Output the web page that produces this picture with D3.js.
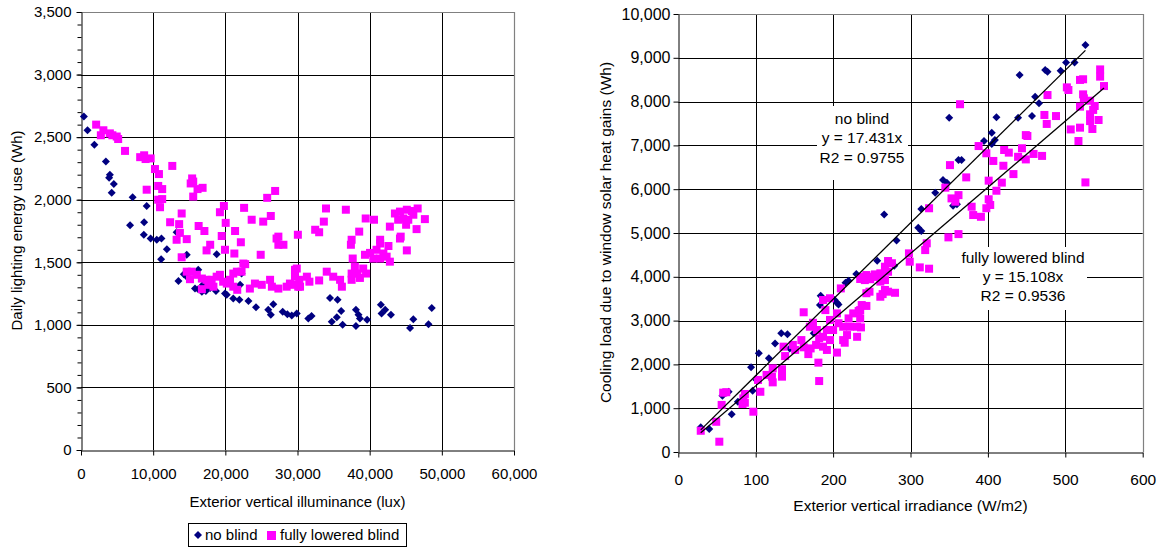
<!DOCTYPE html>
<html><head><meta charset="utf-8">
<script src="https://cdn.jsdelivr.net/npm/d3@7"></script>
<style>
body{margin:0;background:#fff}
svg text{font-family:"Liberation Sans",Arial,sans-serif;fill:#000}
</style>
</head><body><svg id="c" width="1161" height="550"></svg>
<script>
// ---------- DATA ----------
const seriesNames = ["no blind", "fully lowered blind"];
const seriesColors = ["#000080", "#FF00FF"];

// Left chart: exterior vertical illuminance (lux) vs daily lighting energy use (Wh)
const lightingNoBlind = [[400,2665],[900,2555],[1850,2440],[3450,2305],[4000,2200],[3900,2175],[4550,2125],[4250,2055],[7150,2020],[9100,1950],[6800,1795],[8750,1820],[8700,1720],[9650,1690],[10500,1680],[11150,1690],[13250,1740],[11100,1525],[11900,1605],[14650,1560],[13500,1350],[14250,1405],[14650,1385],[16250,1440],[15800,1290],[16250,1285],[16750,1265],[17300,1270],[16900,1320],[17900,1295],[18800,1565],[18700,1270],[19950,1250],[20200,1240],[21100,1210],[21950,1200],[22050,1320],[22250,1410],[23200,1190],[24250,1140],[25950,1120],[26300,1080],[26650,1165],[27950,1105],[28600,1085],[29200,1075],[29900,1090],[31500,1050],[31950,1070],[34500,1215],[35550,1200],[36050,1110],[35450,1060],[34750,1025],[36250,1000],[38100,1120],[38450,1080],[38650,1050],[39650,1040],[38100,990],[41550,1160],[41650,1090],[42150,1120],[42950,1080],[45600,975],[46050,1045],[48150,1005],[48600,1135]];
const lightingBlind = [[2100,2600],[3100,2555],[2750,2515],[4000,2530],[4350,2515],[4950,2505],[5150,2485],[6100,2390],[8200,2340],[8750,2355],[8950,2325],[9650,2330],[10250,2245],[10800,2205],[12650,2270],[9100,2080],[10700,2110],[11250,2085],[10700,2000],[11250,2005],[10950,1940],[12350,1820],[13950,1890],[13600,1805],[15400,2170],[15550,2145],[15200,2130],[15550,2025],[16850,2095],[16150,2085],[16300,1790],[17100,1750],[19250,1900],[19800,1950],[20050,1815],[19500,1710],[21350,1750],[22600,1935],[23650,1840],[25250,1825],[26300,1870],[25800,2015],[26900,2070],[27350,1705],[30050,1720],[13250,1680],[13700,1735],[14650,1685],[13950,1540],[17400,1595],[17900,1640],[21250,1570],[22150,1660],[22750,1485],[24900,1560],[27100,1690],[27350,1640],[28050,1640],[19950,1600],[14650,1425],[15350,1425],[16050,1400],[16750,1370],[17400,1360],[18100,1360],[17650,1320],[18350,1305],[18800,1385],[19250,1400],[19700,1345],[20200,1330],[20650,1360],[21100,1410],[21600,1425],[22250,1425],[22500,1490],[21100,1305],[21650,1280],[16750,1285],[15100,1365],[23400,1290],[24100,1330],[25050,1320],[26200,1360],[26450,1305],[27350,1290],[28500,1305],[29400,1320],[29900,1450],[30350,1305],[33000,1740],[32450,1760],[33650,1825],[33950,1930],[36700,1920],[38550,1745],[39450,1850],[40600,1840],[42800,1785],[43500,1890],[44200,1905],[45150,1920],[45850,1910],[46650,1930],[44650,1850],[45350,1840],[46050,1880],[43950,1840],[47650,1845],[46500,1765],[45050,1800],[44300,1705],[37400,1640],[41450,1650],[42600,1630],[40950,1600],[40050,1575],[39350,1560],[41900,1570],[42800,1505],[40500,1530],[41450,1530],[42350,1545],[44200,1690],[45150,1595],[37650,1530],[37950,1465],[37500,1410],[38300,1410],[39100,1450],[39500,1410],[38650,1375],[29650,1440],[29650,1385],[30250,1360],[28950,1330],[30100,1305],[31300,1385],[31650,1345],[33000,1355],[34050,1425],[34950,1385],[35900,1360],[36150,1305],[37500,1360],[37500,1680],[41450,1680]];

// Right chart: exterior vertical irradiance (W/m2) vs cooling load (Wh)
const coolingNoBlind = [[29,565],[40,525],[57,1285],[65,1375],[69,860],[77,1150],[94,1935],[96,1400],[101,1645],[104,2255],[117,2140],[125,2480],[133,2710],[141,2690],[144,2365],[184,3570],[183,3355],[175,2710],[202,3470],[205,3410],[207,3370],[216,3865],[220,3910],[230,4065],[257,4365],[279,4255],[282,4830],[314,5045],[310,5120],[266,5425],[314,5550],[355,5625],[360,5655],[332,5920],[342,6210],[347,6150],[362,6665],[366,6665],[395,7100],[405,7290],[409,7125],[405,7030],[350,7630],[411,7640],[439,7630],[457,7670],[461,8110],[466,7960],[441,8605],[474,8720],[477,8680],[494,8705],[501,8890],[512,8890],[526,9290]];
const coolingBlind = [[29,485],[53,235],[49,690],[56,1075],[58,1355],[62,1365],[84,1225],[86,1125],[83,1095],[86,1325],[97,920],[103,1645],[106,1375],[114,1760],[122,1910],[122,1590],[121,1720],[134,1890],[134,1720],[136,2405],[138,2190],[148,2445],[151,2330],[162,3190],[159,2555],[162,2390],[168,2235],[171,2365],[178,2445],[182,2595],[181,2040],[182,1620],[170,2860],[174,2950],[179,2785],[187,2630],[192,2785],[196,2555],[187,2405],[192,2330],[187,3470],[196,3510],[190,3240],[205,3165],[196,3015],[207,2940],[200,2785],[213,2555],[218,2670],[213,2860],[220,3050],[222,2860],[226,3165],[205,2270],[215,2495],[210,3735],[233,3220],[235,3050],[231,2860],[231,2630],[236,2845],[243,3335],[248,3945],[235,3950],[239,4000],[247,3660],[261,3545],[243,4040],[254,4055],[258,4000],[298,4535],[299,4345],[321,4765],[319,4610],[312,4215],[324,4185],[271,4360],[276,4310],[267,4230],[271,4115],[261,4080],[250,4000],[261,3890],[267,3925],[280,3635],[271,3660],[264,3605],[267,3700],[241,3925],[243,3625],[237,3355],[235,3240],[349,4900],[362,4975],[324,5565],[379,5600],[381,5410],[391,5370],[353,5790],[362,5865],[358,5715],[401,5770],[403,5640],[398,5565],[345,6035],[411,5965],[418,6150],[401,6195],[372,6270],[351,6550],[433,6345],[420,6535],[444,6935],[449,6680],[439,6740],[459,6805],[470,6760],[421,6895],[427,6835],[398,6820],[407,6645],[388,6985],[449,7235],[451,7215],[364,7940],[473,7695],[476,7490],[488,7670],[477,8150],[507,7365],[519,7405],[517,7100],[526,6155],[535,7375],[532,7710],[532,7555],[543,7580],[532,8020],[538,7900],[536,7810],[519,7885],[523,8165],[524,8075],[502,8325],[504,8265],[550,8355],[519,8495],[523,8510],[545,8735],[545,8570]];

const trendSlopes = [17.431, 15.108];
const trendLabels = [["no blind","y = 17.431x","R2 = 0.9755"],["fully lowered blind","y = 15.108x","R2 = 0.9536"]];
const leftXTicks = [0,10000,20000,30000,40000,50000,60000];
const leftYTicks = [0,500,1000,1500,2000,2500,3000,3500];
const rightXTicks = [0,100,200,300,400,500,600];
const rightYTicks = [0,1000,2000,3000,4000,5000,6000,7000,8000,9000,10000];
const axisTitles = {
  leftX: "Exterior vertical illuminance (lux)",
  leftY: "Daily lighting energy use (Wh)",
  rightX: "Exterior vertical irradiance (W/m2)",
  rightY: "Cooling load due to window solar heat gains (Wh)"
};

// ---------- DRAW ----------
const svg = d3.select("#c");
const fmt = d3.format(",");
const diamond = r => `M0,${-r}L${r},0L0,${r}L${-r},0Z`;

function panel(o){
  const g = svg.append("g");
  const x = d3.scaleLinear().domain(o.xDom).range(o.xR);
  const y = d3.scaleLinear().domain(o.yDom).range(o.yR);
  // gridlines
  g.append("g").selectAll("line").data(o.yTicks.slice(1,-1)).join("line")
    .attr("x1",o.xR[0]).attr("x2",o.xR[1]).attr("y1",d=>Math.round(y(d))+0.5).attr("y2",d=>Math.round(y(d))+0.5)
    .attr("stroke","#000").attr("stroke-width",1);
  g.append("g").selectAll("line").data(o.xTicks.slice(1,-1)).join("line")
    .attr("y1",o.yR[0]).attr("y2",o.yR[1]).attr("x1",d=>Math.round(x(d))+0.5).attr("x2",d=>Math.round(x(d))+0.5)
    .attr("stroke","#000").attr("stroke-width",1);
  // border top/right
  const xr = Math.round(o.xR[1])+0.5, yt = Math.round(o.yR[1])+0.5;
  g.append("path").attr("d",`M${Math.round(o.xR[0])},${yt}H${xr}V${Math.round(o.yR[0])}`)
    .attr("fill","none").attr("stroke","#808080").attr("stroke-width",1.2);
  // label boxes (cover gridlines)
  if(o.labels){
    o.labels.forEach(L=>{
      g.append("rect").attr("x",L.box[0]).attr("y",L.box[1]).attr("width",L.box[2]).attr("height",L.box[3]).attr("fill","#fff");
    });
  }
  // axes
  if(o.minorY){
    g.append("g").attr("transform",`translate(${Math.round(o.xR[0])+0.5},0)`)
      .call(d3.axisLeft(y).tickValues(d3.range(o.yDom[0],o.yDom[1]+1,o.minorY)).tickSize(4).tickFormat(""))
      .call(a=>a.select(".domain").remove()).selectAll("line").attr("stroke","#000");
  }
  const ya = g.append("g").attr("transform",`translate(${Math.round(o.xR[0])+0.5},0)`)
    .call(d3.axisLeft(y).tickValues(o.yTicks).tickSize(5).tickSizeOuter(0).tickPadding(o.yPad).tickFormat(fmt));
  ya.selectAll("text").attr("font-size",o.yFs).attr("fill","#000");
  ya.selectAll("line,path").attr("stroke","#000");
  const xa = g.append("g").attr("transform",`translate(0,${Math.round(o.yR[0])+0.5})`)
    .call(d3.axisBottom(x).tickValues(o.xTicks).tickSize(5).tickSizeOuter(0).tickPadding(o.xPad).tickFormat(fmt));
  xa.selectAll("text").attr("font-size",o.xFs).attr("fill","#000");
  xa.selectAll("line,path").attr("stroke","#000");
  // titles
  g.append("text").attr("x",(o.xR[0]+o.xR[1])/2).attr("y",o.xTitleY).attr("text-anchor","middle")
    .attr("font-size",o.tFs).text(o.xTitle);
  g.append("text").attr("transform",`translate(${o.yTitleX},${o.yTitleCy}) rotate(-90)`).attr("text-anchor","middle")
    .attr("font-size",o.tFs).text(o.yTitle);
  // points
  g.append("g").selectAll("path").data(o.s0).join("path")
    .attr("d",diamond(4)).attr("transform",d=>`translate(${x(d[0])},${y(d[1])})`).attr("fill",seriesColors[0]);
  g.append("g").selectAll("rect").data(o.s1).join("rect")
    .attr("x",d=>x(d[0])-4).attr("y",d=>y(d[1])-4).attr("width",8).attr("height",8).attr("fill",seriesColors[1]);
  // trendlines
  if(o.trend){
    [o.s0,o.s1].forEach((s,i)=>{
      const ex = d3.extent(s,d=>d[0]);
      g.append("line").attr("x1",x(ex[0])).attr("y1",y(ex[0]*trendSlopes[i]))
        .attr("x2",x(ex[1])).attr("y2",y(ex[1]*trendSlopes[i])).attr("stroke","#000").attr("stroke-width",1.3);
    });
  }
  if(o.labels){
    o.labels.forEach(L=>{
      const t = g.append("text").attr("text-anchor","middle").attr("font-size",o.tFs);
      L.lines.forEach((s,k)=>t.append("tspan").attr("x",L.cx).attr("y",L.y0+k*L.dy).text(s));
    });
  }
  return {x,y};
}

panel({
  xDom:[0,60000], yDom:[0,3500], xR:[81,514], yR:[450,12],
  xTicks:leftXTicks, yTicks:leftYTicks, minorY:100,
  yFs:"15px", xFs:"15px", tFs:"15px", yPad:5, xPad:13,
  xTitle:axisTitles.leftX, yTitle:axisTitles.leftY, xTitleY:507, yTitleX:22, yTitleCy:230.5,
  s0:lightingNoBlind, s1:lightingBlind
});

panel({
  xDom:[0,600], yDom:[0,10000], xR:[678.3,1142.7], yR:[452,14],
  xTicks:rightXTicks, yTicks:rightYTicks,
  yFs:"16px", xFs:"15.5px", tFs:"15.5px", yPad:3, xPad:16,
  xTitle:axisTitles.rightX, yTitle:axisTitles.rightY, xTitleY:511, yTitleX:611, yTitleCy:232.5,
  s0:coolingNoBlind, s1:coolingBlind, trend:true,
  labels:[
    {box:[817,106,91,74], cx:862, y0:123.5, dy:19.5, lines:trendLabels[0]},
    {box:[960,247,127,63], cx:1023, y0:263, dy:19, lines:trendLabels[1]}
  ]
});

// legend
const lg = svg.append("g");
lg.append("rect").attr("x",188.5).attr("y",523.5).attr("width",218).attr("height",23).attr("fill","#fff").attr("stroke","#000");
lg.append("path").attr("d",diamond(4)).attr("transform","translate(198,535)").attr("fill",seriesColors[0]);
lg.append("text").attr("x",205).attr("y",540).attr("font-size","15px").text(seriesNames[0]);
lg.append("rect").attr("x",267).attr("y",531).attr("width",9).attr("height",9).attr("fill",seriesColors[1]);
lg.append("text").attr("x",280).attr("y",540).attr("font-size","15px").text(seriesNames[1]);
</script>
</body></html>
